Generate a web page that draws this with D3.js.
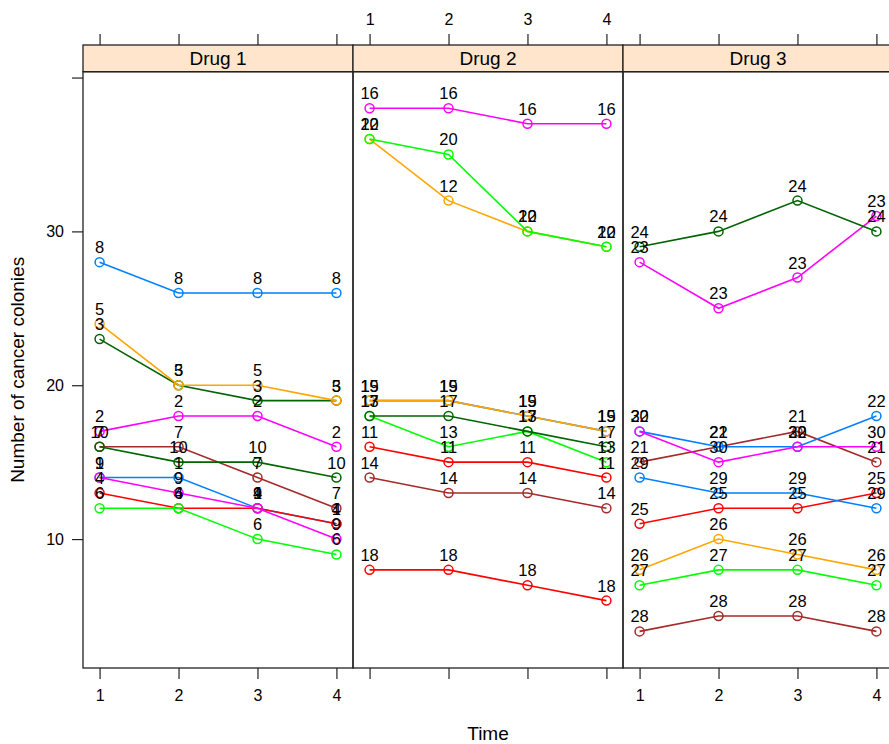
<!DOCTYPE html>
<html>
<head>
	<title>Cancer colonies by drug</title>
	<script type="text/javascript" src="https://cdnjs.cloudflare.com/ajax/libs/d3/7.8.5/d3.min.js"></script>
	<style>
		body { margin: 0; background: #fff; }
		svg { display: block; overflow: hidden; }
		text { font-family: "Liberation Sans", Arial, sans-serif; fill: #000; }
	</style>
</head>
<body>

	<script type="text/javascript">
		// panels and time points
		var drugs = ["Drug 1", "Drug 2", "Drug 3"];
		var times = [1, 2, 3, 4];

		// subject ids, which drug each got, and the colony counts at times 1..4
		var subjects = [1,2,3,4,5,6,7,8,9,10, 11,12,13,14,15,16,17,18,19,20, 21,22,23,24,25,26,27,28,29,30];
		var drugIndex = [0,0,0,0,0,0,0,0,0,0, 1,1,1,1,1,1,1,1,1,1, 2,2,2,2,2,2,2,2,2,2];
		var colonies = [
			[14,14,12,11], [17,18,18,16], [23,20,19,19], [13,12,12,11], [24,20,20,19],
			[12,12,10,9],  [16,16,14,12], [28,26,26,26], [14,13,12,10], [16,15,15,14],
			[16,15,15,14], [36,32,30,29], [18,16,17,15], [14,13,13,12], [19,19,18,17],
			[38,38,37,37], [18,18,17,16], [8,8,7,6],     [19,19,18,17], [36,35,30,29],
			[15,16,17,15], [17,16,16,18], [28,25,27,31], [29,30,32,30], [11,12,12,13],
			[8,10,9,8],    [7,8,8,7],     [4,5,5,4],     [14,13,13,12], [17,15,16,16]
		];

		var yTicks = [10, 20, 30, 40];
		var yTickLabels = ["10", "20", "30", ""];

		// lattice superpose colours
		var groupColors = ["#0080ff", "#ff00ff", "darkgreen", "#ff0000", "orange", "#00ff00", "brown"];

		var W = 889, H = 744;
		// note: "top" is window.top, so use other names
		var panelLeft = 83, panelW = 270, panelTop = 71.7, panelBottom = 668, stripH = 26.7;

		var svg = d3.select("body").append("svg").attr("width", W).attr("height", H);

		// 7% padding on both axes like lattice
		var x = d3.scaleLinear().domain([0.79, 4.21]).range([0, panelW]);
		var y = d3.scaleLinear().domain([1.62, 40.38]).range([panelBottom, panelTop]);

		var line = d3.line()
			.x(function (d, i) { return x(times[i]); })
			.y(function (d) { return y(d); });

		function styleAxis(sel, size) {
			sel.attr("font-size", null).attr("font-family", null);
			sel.select(".domain").remove();
			sel.selectAll("line").attr("stroke", "#222").attr("stroke-width", 1.2);
			sel.selectAll("text").style("font-size", size + "px");
		}

		drugs.forEach(function (drug, p) {
			var g = svg.append("g").attr("transform", "translate(" + (panelLeft + p * panelW) + ",0)");

			// strip
			g.append("rect")
				.attr("x", 0).attr("y", panelTop - stripH)
				.attr("width", panelW).attr("height", stripH)
				.attr("fill", "#ffe5cc").attr("stroke", "#222").attr("stroke-width", 1.3);
			g.append("text")
				.attr("x", panelW / 2).attr("y", panelTop - stripH / 2 + 7)
				.attr("text-anchor", "middle").style("font-size", "19px")
				.text(drug);

			// top axis
			var topAxis = d3.axisTop(x).tickValues(times).tickSize(11).tickSizeOuter(0).tickPadding(9)
				.tickFormat(p === 1 ? d3.format("d") : function () { return ""; });
			var ta = g.append("g").attr("transform", "translate(0," + (panelTop - stripH) + ")").call(topAxis);
			styleAxis(ta, 16);

			// bottom axis
			var botAxis = d3.axisBottom(x).tickValues(times).tickSize(11).tickSizeOuter(0).tickPadding(11)
				.tickFormat(p !== 1 ? d3.format("d") : function () { return ""; });
			var ba = g.append("g").attr("transform", "translate(0," + panelBottom + ")").call(botAxis);
			styleAxis(ba, 16);

			// panel frame
			g.append("rect")
				.attr("x", 0).attr("y", panelTop)
				.attr("width", panelW).attr("height", panelBottom - panelTop)
				.attr("fill", "none").attr("stroke", "#222").attr("stroke-width", 1.3);

			var rows = subjects.filter(function (s, i) { return drugIndex[i] === p; });

			rows.forEach(function (s) {
				var vals = colonies[s - 1];
				var col = groupColors[(s - 1) % groupColors.length];
				g.append("path")
					.attr("d", line(vals))
					.attr("fill", "none").attr("stroke", col).attr("stroke-width", 1.6);
				g.selectAll(null).data(vals).enter().append("circle")
					.attr("cx", function (d, i) { return x(times[i]); })
					.attr("cy", function (d) { return y(d); })
					.attr("r", 4.5)
					.attr("fill", "none").attr("stroke", col).attr("stroke-width", 1.5);
			});

			rows.forEach(function (s) {
				var vals = colonies[s - 1];
				g.selectAll(null).data(vals).enter().append("text")
					.attr("x", function (d, i) { return x(times[i]); })
					.attr("y", function (d) { return y(d) - 9; })
					.attr("text-anchor", "middle").style("font-size", "16.5px")
					.text(s);
			});
		});

		// left y axis
		var leftAxis = d3.axisLeft(y).tickValues(yTicks).tickSize(11).tickSizeOuter(0).tickPadding(8)
			.tickFormat(function (d, i) { return yTickLabels[i]; });
		var la = svg.append("g").attr("transform", "translate(" + panelLeft + ",0)").call(leftAxis);
		styleAxis(la, 16);

		// axis titles
		svg.append("text")
			.attr("x", panelLeft + 1.5 * panelW).attr("y", 740)
			.attr("text-anchor", "middle").style("font-size", "19px")
			.text("Time");
		svg.append("text")
			.attr("transform", "translate(24," + ((panelTop + panelBottom) / 2) + ") rotate(-90)")
			.attr("text-anchor", "middle").style("font-size", "19px")
			.text("Number of cancer colonies");
	</script>
</body>
</html>
